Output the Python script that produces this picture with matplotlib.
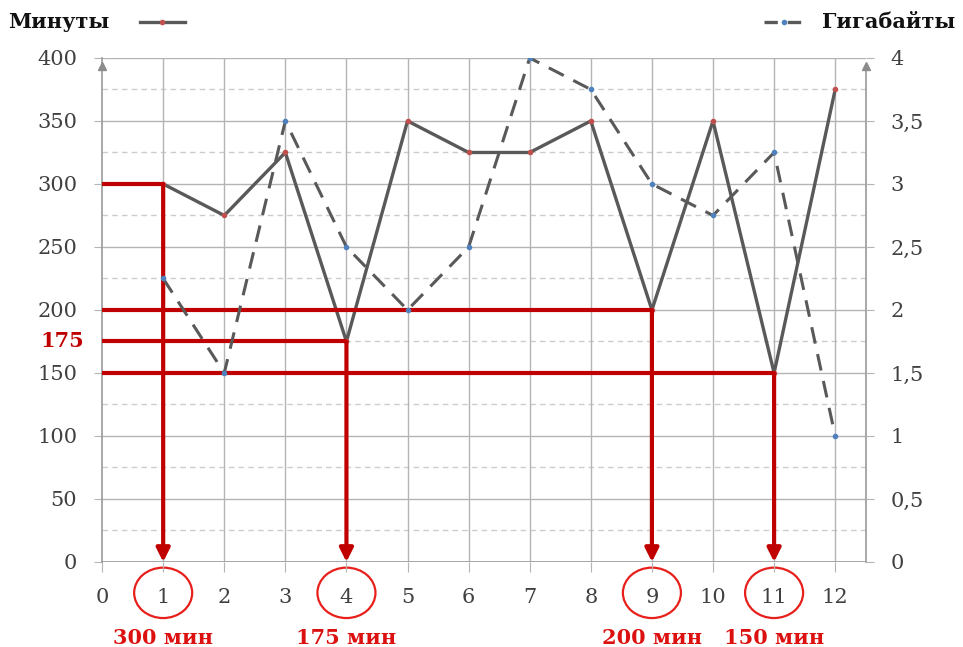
import matplotlib
matplotlib.use("Agg")
import matplotlib.pyplot as plt
from matplotlib.patches import Ellipse
from matplotlib.ticker import MultipleLocator, FuncFormatter

months = [1, 2, 3, 4, 5, 6, 7, 8, 9, 10, 11, 12]
minutes = [300, 275, 325, 175, 350, 325, 325, 350, 200, 350, 150, 375]
gigabytes = [2.25, 1.5, 3.5, 2.5, 2.0, 2.5, 4.0, 3.75, 3.0, 2.75, 3.25, 1.0]

# highlighted months and their minutes
marked_x = [1, 4, 9, 11]
marked_min = [300, 175, 200, 150]
marked_text = ["300 мин", "175 мин", "200 мин", "150 мин"]

SERIF = "DejaVu Serif"
GRID = "#b4b4b4"
LINE = "#595959"
RED = "#c00000"
TXT = "#404040"

fig = plt.figure(figsize=(9.63, 6.47), dpi=100)
ax = fig.add_axes([0.106, 0.1314, 0.793, 0.779])
ax2 = ax.twinx()

ax.set_xlim(0, 12.5)
ax.set_ylim(0, 400)
ax2.set_ylim(0, 4)

ax.set_xticks(range(0, 13))
ax.yaxis.set_major_locator(MultipleLocator(50))
ax2.yaxis.set_major_locator(MultipleLocator(0.5))
ax2.yaxis.set_major_formatter(FuncFormatter(lambda v, p: f"{v:g}".replace(".", ",")))

# grid: solid majors, dashed 25-minute minors
for y in range(50, 401, 50):
    ax.axhline(y, color=GRID, lw=1.0, zorder=1)
for y in range(25, 400, 50):
    ax.axhline(y, color="#cccccc", lw=1.0, ls=(0, (4, 3)), zorder=1)
for x in months:
    ax.axvline(x, color=GRID, lw=1.0, zorder=1)
ax.axhline(0, color="#9a9a9a", lw=1.2, zorder=1)

for s in ["top", "right", "bottom"]:
    ax.spines[s].set_visible(False)
    ax2.spines[s].set_visible(False)
ax2.spines["left"].set_visible(False)
ax.spines["left"].set_color("#9a9a9a")
ax.spines["left"].set_linewidth(1.2)

ax.tick_params(axis="x", length=7, color=GRID, pad=12, labelsize=15, labelcolor=TXT)
ax.tick_params(axis="y", length=6, color=GRID, pad=12, labelsize=15, labelcolor=TXT)
ax2.tick_params(axis="y", length=6, color=GRID, pad=12, labelsize=15, labelcolor=TXT)
for lab in ax.get_xticklabels() + ax.get_yticklabels() + ax2.get_yticklabels():
    lab.set_family(SERIF)

# axis arrows
ax.plot([0], [394], marker="^", color="#8c8c8c", ms=6, clip_on=False, zorder=6)
ax.plot([12.5], [394], marker="^", color="#8c8c8c", ms=6, clip_on=False, zorder=6)
ax.plot([12.5, 12.5], [0, 394], color="#9a9a9a", lw=1.2, clip_on=False, zorder=1)

# data lines
ax.plot(months, minutes, color=LINE, lw=2.4, zorder=3)
ax.plot(months, minutes, ls="none", marker="o", ms=3, color="#c0504d", zorder=4)
ax2.plot(months, gigabytes, color=LINE, lw=2.2, ls=(0, (5.5, 3.5)), zorder=3)
ax2.plot(months, gigabytes, ls="none", marker="o", ms=3, color="#4f81bd", zorder=4)

# red guide lines and arrows
for x, m in zip(marked_x, marked_min):
    ax.plot([0, x], [m, m], color=RED, lw=3, zorder=5, solid_capstyle="butt")
    ax.annotate("", xy=(x, 0), xytext=(x, m),
                arrowprops=dict(arrowstyle="-|>", color=RED, lw=3,
                                mutation_scale=20, shrinkA=0, shrinkB=0),
                zorder=5)

ax.text(-0.3, 175, "175", color=RED, fontsize=15, fontweight="bold",
        family=SERIF, ha="right", va="center")

# circles round the marked ticks and the minutes below
for x, t in zip(marked_x, marked_text):
    ax.add_patch(Ellipse((x, -24.5), 0.95, 40, fill=False, ec="#e8201c", lw=1.6,
                         clip_on=False))
    ax.text(x, -60, t, color="#dd1010", fontsize=15, fontweight="bold",
            family=SERIF, ha="center", va="center")

# legend headers
fig.text(8 / 963, 1 - 22 / 647, "Минуты", fontsize=15, fontweight="bold",
         family=SERIF, ha="left", va="center", color="#111111")
fig.lines.append(plt.Line2D([140 / 963, 185 / 963], [1 - 22 / 647] * 2,
                            color=LINE, lw=2.4, transform=fig.transFigure))
fig.lines.append(plt.Line2D([162 / 963], [1 - 22 / 647], marker="o", ms=3,
                            color="#c0504d", transform=fig.transFigure))
fig.text(955 / 963, 1 - 22 / 647, "Гигабайты", fontsize=15, fontweight="bold",
         family=SERIF, ha="right", va="center", color="#111111")
fig.lines.append(plt.Line2D([764 / 963, 804 / 963], [1 - 22 / 647] * 2,
                            color=LINE, lw=2.4, ls=(0, (4, 3)),
                            transform=fig.transFigure))
fig.lines.append(plt.Line2D([784 / 963], [1 - 22 / 647], marker="o", ms=3,
                            color="#4f81bd", transform=fig.transFigure))

fig.savefig("out.png", dpi=100)
